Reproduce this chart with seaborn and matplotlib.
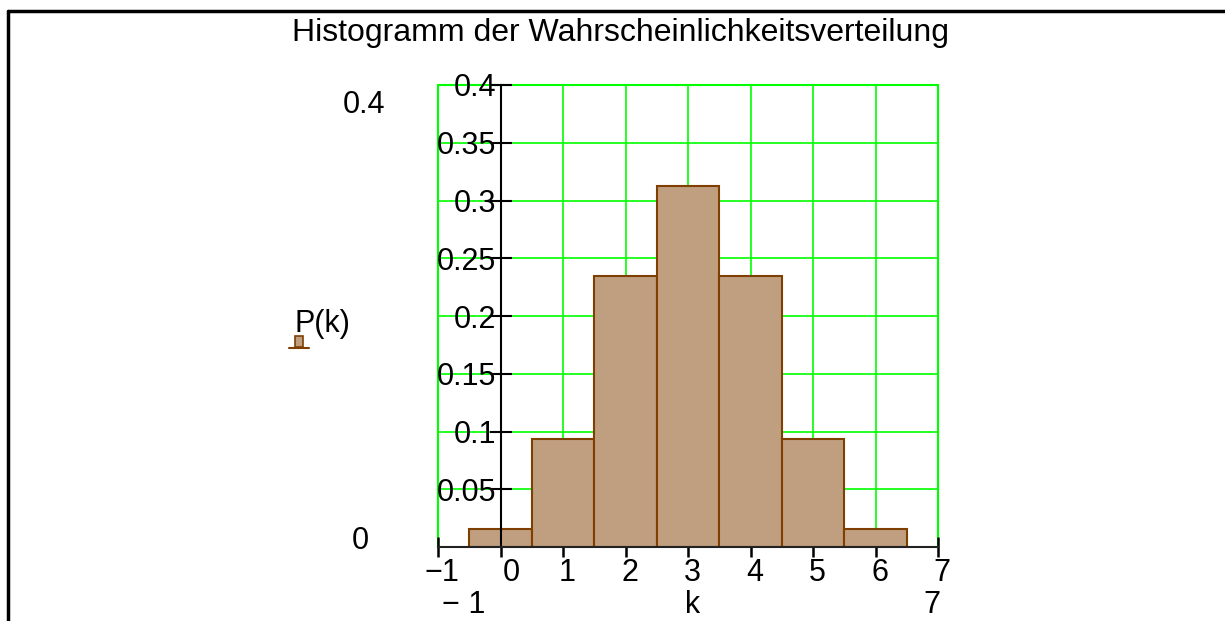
import numpy as np
import pandas as pd
import matplotlib
matplotlib.use("Agg")
import matplotlib.pyplot as plt
import matplotlib.transforms as mtransforms
import seaborn as sns
from matplotlib.lines import Line2D
from matplotlib.patches import Rectangle

# binomial distribution n=6, p=0.5
k_vals = [0, 1, 2, 3, 4, 5, 6]
p_vals = [0.015625, 0.09375, 0.234375, 0.3125, 0.234375, 0.09375, 0.015625]
x_ticks = [-1, 0, 1, 2, 3, 4, 5, 6, 7]
y_ticks = [0.05, 0.1, 0.15, 0.2, 0.25, 0.3, 0.35, 0.4]
title = "Histogramm der Wahrscheinlichkeitsverteilung"

sns.set_style("ticks")
plt.rcParams["font.family"] = ["Liberation Sans", "DejaVu Sans"]
plt.rcParams["text.color"] = "black"
plt.rcParams["xtick.color"] = "black"
plt.rcParams["ytick.color"] = "black"
plt.rcParams["xtick.labelcolor"] = "black"
plt.rcParams["ytick.labelcolor"] = "black"

W, H = 1225, 621
fig = plt.figure(figsize=(W / 100, H / 100), dpi=100)


def px(x, y):
    return x / W, 1 - y / H


ax = fig.add_axes([438 / W, (H - 547) / H, 500 / W, 462 / H])

df = pd.DataFrame({"k": k_vals, "P": p_vals})
sns.barplot(data=df, x="k", y="P", native_scale=True, width=1.0,
            color="#c09f80", saturation=1, edgecolor="#7f3f00",
            linewidth=1.5, ax=ax, zorder=2)

ax.set_xlim(-1, 7)
ax.set_ylim(0, 0.4)
ax.set_xticks(x_ticks)
ax.set_xticklabels(["\u22121" if t < 0 else str(t) for t in x_ticks])
ax.set_yticks(y_ticks)
ax.set_yticklabels([f"{t:g}" for t in y_ticks])
ax.set_xlabel("")
ax.set_ylabel("")

ax.set_axisbelow(True)
ax.grid(True, color="#00ff00", linewidth=1.2)
for t in [-1, 7]:
    ax.axvline(t, color="#00ff00", linewidth=1.5, zorder=0.5, clip_on=False)
ax.axhline(0.4, color="#00ff00", linewidth=1.5, zorder=0.5, clip_on=False)

ax.spines["top"].set_visible(False)
ax.spines["right"].set_visible(False)
ax.spines["left"].set_position(("data", 0))
ax.spines["bottom"].set_position(("data", 0))
ax.spines["left"].set_color("black")
ax.spines["bottom"].set_color("#222222")
ax.spines["left"].set_linewidth(1.5)
ax.spines["bottom"].set_linewidth(1.5)
ax.spines["left"].set_zorder(3)
ax.spines["bottom"].set_zorder(3)

ax.tick_params(axis="x", bottom=True, direction="inout", length=14, width=1.8,
               labelsize=22, pad=1)
ax.tick_params(axis="y", left=True, direction="inout", length=16, width=1.5,
               labelsize=22, pad=-5)

# x labels sit a little right of their ticks, "0" clears the y axis
for i, lab in enumerate(ax.get_xticklabels()):
    dx = 11 if x_ticks[i] == 0 else 4
    lab.set_transform(lab.get_transform() +
                      mtransforms.ScaledTranslation(dx / 100, 0, fig.dpi_scale_trans))

fig.text(*px(620, 33), title, ha="center", va="center", fontsize=23)

# Mathcad style range labels
fig.text(*px(385, 105), "0.4", ha="right", va="center", fontsize=22)
fig.text(*px(369, 541), "0", ha="right", va="center", fontsize=22)
fig.text(*px(464, 605), "\u2212 1", ha="center", va="center", fontsize=22)
fig.text(*px(693, 605), "k", ha="center", va="center", fontsize=22)
fig.text(*px(932, 605), "7", ha="center", va="center", fontsize=22)
fig.text(*px(322, 324), "P(k)", ha="center", va="center", fontsize=22)

# trace marker under P(k)
fig.patches.append(Rectangle(px(295, 347), 8 / W, 11 / H, transform=fig.transFigure,
                             facecolor="#c09f80", edgecolor="#7f3f00", linewidth=1.2))
fig.lines.append(Line2D([289 / W, 309 / W], [1 - 347.5 / H] * 2, transform=fig.transFigure,
                        color="#7f3f00", linewidth=1.5))

# outer frame
fig.lines.append(Line2D([8 / W, 1 / 1], [1 - 11 / H] * 2, transform=fig.transFigure,
                        color="black", linewidth=2.5))
fig.lines.append(Line2D([8 / W] * 2, [1 - 11 / H, 0], transform=fig.transFigure,
                        color="black", linewidth=2.5))

fig.savefig("out.png", dpi=100)
